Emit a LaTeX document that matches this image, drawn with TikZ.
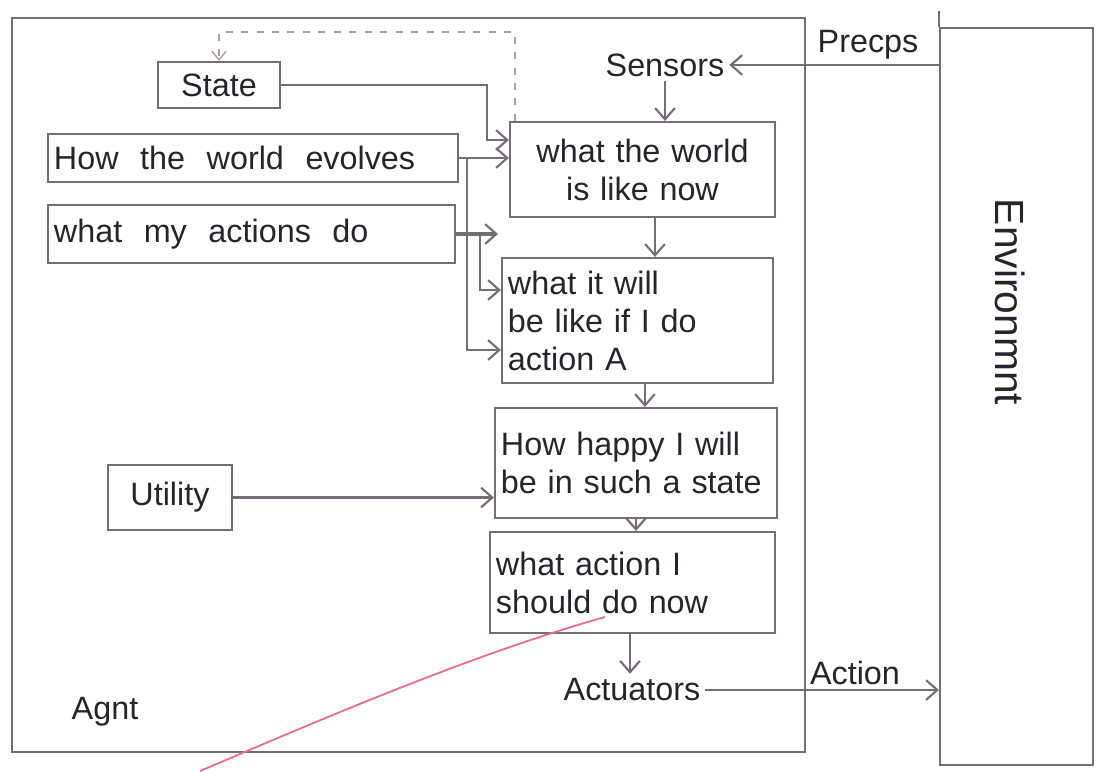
\documentclass[tikz,border=0pt]{standalone}
\usepackage{fontspec}
\setmainfont{Liberation Sans}
\usetikzlibrary{arrows.meta,calc}
\definecolor{ln}{RGB}{118,108,118}
\definecolor{tx}{RGB}{40,36,44}
\definecolor{pk}{RGB}{232,110,140}
\begin{document}
\begin{tikzpicture}[x=0.025cm,y=-0.025cm,
  every node/.style={text=tx, font=\fontsize{23}{27}\selectfont},
  box/.style={draw=ln, line width=1.5pt, inner xsep=0.15cm, inner ysep=0pt},
  frame/.style={draw=ln, line width=1.5pt, inner sep=0pt},
  arr/.style={draw=ln, line width=1.5pt, -{Straight Barb[length=8pt,width=14pt,line width=1.5pt]}},
  plain/.style={draw=ln, line width=1.5pt},
  dashline/.style={draw=ln!65, line width=1pt, dash pattern=on 5pt off 6pt}]
\useasboundingbox (0,0) rectangle (1096,771);

% frames
\node[frame, minimum width=19.825cm, minimum height=18.35cm] (agent) at (408.5,385) {};
\node[frame, minimum width=3.825cm, minimum height=18.425cm] (env) at (1016.5,396.5) {};
\draw[plain] (env.north west) -- ++(0,-16);

% boxes
\node[box, text width=6.325cm, minimum height=2.375cm, align=center] (b1) at (642.5,169.5) {what the world\\is like now};
\node[box, text width=6.475cm, minimum height=3.125cm, align=left] (b2) at (637.5,320.5) {what it will\\be like if I do\\action A};
\node[box, text width=6.75cm, minimum height=2.75cm, align=left] (b3) at (636,463) {How happy I will\\be in such a state};
\node[box, text width=6.825cm, minimum height=2.525cm, align=left] (b4) at (632.5,582.5) {what action I\\should do now};
\node[box, text width=2.75cm, minimum height=1.15cm, align=center] (state) at (219,85) {State};
\node[box, text width=9.95cm, minimum height=1.2cm, align=left] (ev) at (253,158) {How\ \ the\ \ world\ \ evolves};
\node[box, text width=9.875cm, minimum height=1.45cm, align=left] (act) at (251.5,234) {what\ \ my\ \ actions\ \ do};
\node[box, text width=2.8cm, minimum height=1.625cm, align=center] (util) at (170,497.5) {Utility};

% labels
\node (sensors) at (665,65) {Sensors};
\node (percepts) at (868,45) {Precps};
\node (actu) at (632,690) {Actuators};
\node (actionlbl) at (855,673) {Action};
\node (agentlbl) at (105,712) {Agnt};
\node[rotate=-90, font=\fontsize{29}{32}\selectfont] (envlbl) at (1010,302) {Environmnt};

% helper coordinates
\coordinate (y32) at (0,32);
\coordinate (y140) at (0,140);
\coordinate (y290) at (0,290);
\coordinate (y350) at (0,350);
\coordinate (x467) at (467,0);
\coordinate (x480) at (480,0);
\coordinate (x487) at (487,0);
\coordinate (x498) at (498,0);
\coordinate (x655) at (655,0);
\coordinate (x645) at (645,0);
\coordinate (x636) at (636,0);
\coordinate (x630) at (630,0);

% connectors
\draw[arr] (sensors.east -| env.west) -- (sensors.east);
\draw[arr] (sensors.south) -- (sensors.south |- b1.north);
\draw[arr] (b1.south -| x655) -- (b2.north -| x655);
\draw[arr] (b2.south -| x645) -- (b3.north -| x645);
\draw[arr] (b3.south -| x636) -- (b4.north -| x636);
\draw[arr] (b4.south -| x630) -- (actu.north -| x630);
\draw[arr] (actu.east) -- (actu.east -| env.west);
\draw[arr] (util.east) -- (util.east -| b3.west);

\draw[arr] (state.east) -- (state.east -| x487) -- (x487 |- y140) -- (b1.west |- y140);
\draw[arr] (ev.east) -- (ev.east -| b1.west);
\coordinate (j1) at (x467 |- ev.east);
\draw[arr] (j1) -- (j1 |- y350) -- (b2.west |- y350);
\draw[arr, line width=2.2pt] (act.east) -- (act.east -| x498);
\coordinate (j2) at (x480 |- act.east);
\draw[arr] (j2) -- (j2 |- y290) -- (b2.west |- y290);

\coordinate (dA) at ($(b1.north west)+(6,0)$);
\coordinate (dB) at (dA |- y32);
\draw[dashline, -{Straight Barb[length=6pt,width=10pt,line width=1pt]}] (dA) -- (dB) -- (dB -| state.north) -- (state.north);

% stray pen mark
\draw[pk, line width=1.3pt] (200,771) .. controls (320,720) and (470,655) .. (605,617);
\end{tikzpicture}
\end{document}
